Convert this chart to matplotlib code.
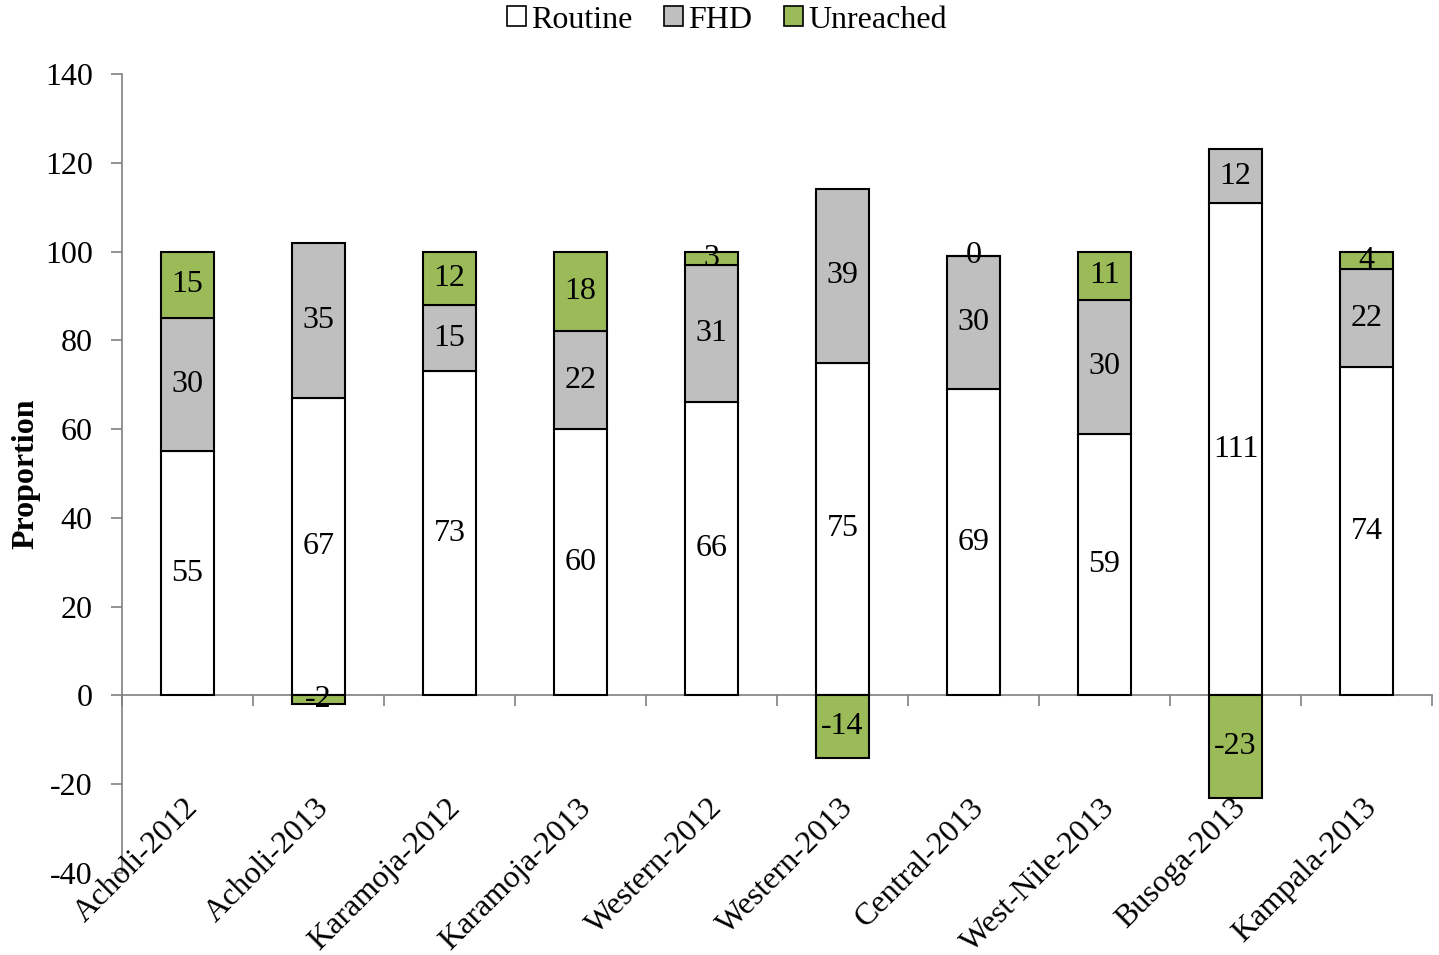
import numpy as np
import matplotlib
matplotlib.use("Agg")
import matplotlib.pyplot as plt
from matplotlib.patches import Patch

plt.rcParams['font.family'] = ['Liberation Serif', 'DejaVu Serif']
plt.rcParams['axes.unicode_minus'] = False

regions = ["Acholi-2012", "Acholi-2013", "Karamoja-2012", "Karamoja-2013",
           "Western-2012", "Western-2013", "Central-2013", "West-Nile-2013",
           "Busoga-2013", "Kampala-2013"]
routine = [55, 67, 73, 60, 66, 75, 69, 59, 111, 74]
fhd = [30, 35, 15, 22, 31, 39, 30, 30, 12, 22]
unreached = [15, -2, 12, 18, 3, -14, 0, 11, -23, 4]

series_names = ["Routine", "FHD", "Unreached"]
colors = ["#FFFFFF", "#BFBFBF", "#9BBB59"]
axis_gray = "#808080"
fs = 23

fig = plt.figure(figsize=(14.39, 9.55), dpi=100)
ax = fig.add_axes([0.0848, 0.0859, 0.9103, 0.8366])

x = np.arange(len(regions))
width = 0.4
routine_a = np.array(routine, dtype=float)
fhd_a = np.array(fhd, dtype=float)
unr_a = np.array(unreached, dtype=float)

# Routine and FHD stack upward from zero; a positive unreached share sits on top,
# a negative one hangs below the axis.
unr_bottom = np.where(unr_a >= 0, routine_a + fhd_a, 0.0)

layers = [(routine_a, np.zeros_like(routine_a)),
          (fhd_a, routine_a),
          (unr_a, unr_bottom)]

for (vals, bottom), col in zip(layers, colors):
    ax.bar(x, vals, width, bottom=bottom, color=col, edgecolor="black",
           linewidth=1.5, zorder=3)
    for xi, v, b in zip(x, vals, bottom):
        ax.text(xi, b + v / 2, f"{int(v)}", ha="center", va="center",
                fontsize=fs, zorder=4)

ax.set_xlim(-0.5, len(regions) - 0.5)
ax.set_ylim(-40, 140)
ax.set_yticks(np.arange(-40, 141, 20))
ax.tick_params(axis="y", direction="out", length=8, width=1.2,
               color=axis_gray, labelsize=fs, pad=13)

ax.set_xticks([])
ax.set_xticks(np.arange(-0.5, len(regions), 1.0), minor=True)
ax.tick_params(axis="x", which="minor", direction="out", length=8, width=1.2,
               color=axis_gray, labelbottom=False)

for side in ["top", "right"]:
    ax.spines[side].set_visible(False)
ax.spines["bottom"].set_position(("data", 0))
ax.spines["bottom"].set_color(axis_gray)
ax.spines["bottom"].set_linewidth(1.2)
ax.spines["left"].set_color(axis_gray)
ax.spines["left"].set_linewidth(1.2)

# category names, rotated and set low in the plot area
for xi, name in zip(x, regions):
    ax.text(xi - 0.03, -22.0, name, rotation=45, ha="right", va="top",
            rotation_mode="anchor", fontsize=fs, zorder=5)

ax.set_ylabel("Proportion", fontsize=fs, fontweight="bold", labelpad=3)

handles = [Patch(facecolor=c, edgecolor="black", linewidth=1.2) for c in colors]
fig.legend(handles, series_names, loc="center", bbox_to_anchor=(0.505, 0.979),
           ncol=3, frameon=False, fontsize=fs, handlelength=0.6,
           handleheight=0.6, handletextpad=0.15, columnspacing=1.0)

fig.savefig("out.png", dpi=100)
